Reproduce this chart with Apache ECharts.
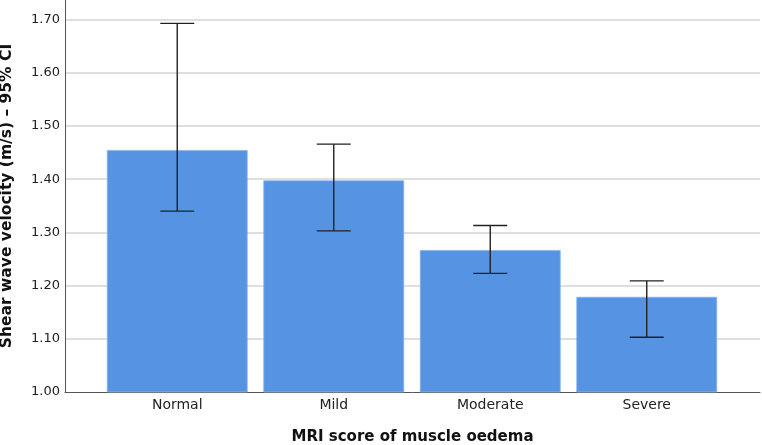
<!DOCTYPE html>
<html>
<head>
<meta charset="utf-8">
<script src="https://cdn.jsdelivr.net/npm/echarts@6/dist/echarts.min.js"></script>
<style>html,body{margin:0;padding:0;background:#fff;}#c{width:762px;height:445px;}</style>
</head>
<body>
<div id="c"></div>
<script>
const categories = ['Normal', 'Mild', 'Moderate', 'Severe'];
const means = [1.455, 1.398, 1.267, 1.179];
const ciLower = [1.340, 1.303, 1.223, 1.103];
const ciUpper = [1.693, 1.466, 1.313, 1.209];
const yTicks = [1.0, 1.1, 1.2, 1.3, 1.4, 1.5, 1.6, 1.7];

const FONT = '"DejaVu Sans", sans-serif';
const chart = echarts.init(document.getElementById('c'));
const yMin = yTicks[0], yMax = 1.737;

chart.setOption({
  animation: false,
  grid: [
    { left: 65, right: 2, top: 0, bottom: 53, outerBoundsMode: 'none', containLabel: false },
    { left: 99, right: 37, top: 0, bottom: 53, outerBoundsMode: 'none', containLabel: false }
  ],
  xAxis: [
    { gridIndex: 0, type: 'value', min: 0, max: 1,
      axisLine: { show: true, lineStyle: { color: '#555', width: 1 } },
      axisTick: { show: false }, axisLabel: { show: false }, splitLine: { show: false },
      name: 'MRI score of muscle oedema', nameLocation: 'middle', nameGap: 38,
      nameTextStyle: { fontFamily: FONT, fontSize: 15, fontWeight: 'bold', color: '#111' } },
    { gridIndex: 1, type: 'category', data: categories,
      axisLine: { show: false }, axisTick: { show: false },
      axisLabel: { fontFamily: FONT, fontSize: 14, color: '#222', margin: 6 } }
  ],
  yAxis: [
    { gridIndex: 0, type: 'value', min: yMin, max: yMax, interval: 0.1,
      axisLine: { show: true, lineStyle: { color: '#555', width: 1 } },
      axisTick: { show: false },
      axisLabel: { fontFamily: FONT, fontSize: 13, color: '#222', margin: 5, showMaxLabel: false,
        formatter: v => v.toFixed(2) },
      splitLine: { show: true, showMinLine: false, showMaxLine: false, lineStyle: { color: '#d4d4d4', width: 1.5 } },
      name: 'Shear wave velocity (m/s) – 95% CI', nameLocation: 'middle', nameGap: 50,
      nameTextStyle: { fontFamily: FONT, fontSize: 15.5, fontWeight: 'bold', color: '#111' } },
    { gridIndex: 1, type: 'value', min: yMin, max: yMax, show: false }
  ],
  series: [
    { type: 'bar', xAxisIndex: 1, yAxisIndex: 1, data: means, barCategoryGap: '10%',
      itemStyle: { color: '#5694e3', borderColor: '#8ab8f0', borderWidth: 0.8 } },
    { type: 'custom', xAxisIndex: 1, yAxisIndex: 1,
      data: categories.map((c, i) => [i, ciLower[i], ciUpper[i]]),
      renderItem: (params, api) => {
        const lo = api.coord([api.value(0), api.value(1)]);
        const hi = api.coord([api.value(0), api.value(2)]);
        const hw = 17;
        const st = { stroke: '#222', lineWidth: 1.4 };
        return { type: 'group', children: [
          { type: 'line', shape: { x1: lo[0], y1: lo[1], x2: hi[0], y2: hi[1] }, style: st },
          { type: 'line', shape: { x1: lo[0] - hw, y1: lo[1], x2: lo[0] + hw, y2: lo[1] }, style: st },
          { type: 'line', shape: { x1: hi[0] - hw, y1: hi[1], x2: hi[0] + hw, y2: hi[1] }, style: st }
        ]};
      },
      z: 5 }
  ]
});
</script>
</body>
</html>
